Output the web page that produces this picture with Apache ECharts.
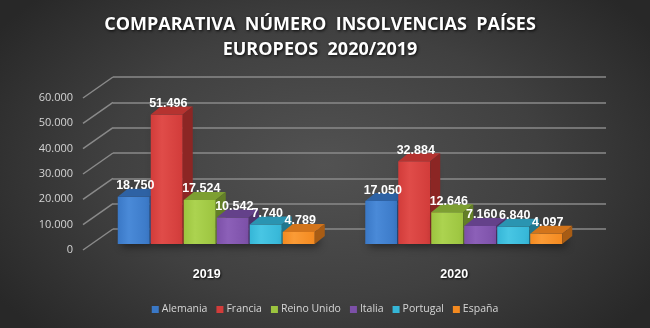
<!DOCTYPE html>
<html>
<head>
<meta charset="utf-8">
<script src="https://cdn.jsdelivr.net/npm/echarts@6/dist/echarts.min.js"></script>
<style>
  html, body { margin: 0; padding: 0; }
  #chart {
    width: 650px; height: 328px;
    background: radial-gradient(ellipse 60% 75% at 50% 50%, #525252 0%, #404040 55%, #282828 100%);
  }
</style>
</head>
<body>
<div id="chart"></div>
<script>
// Insolvency counts per country, 2019 vs 2020
const years = ['2019', '2020'];
const countries = ['Alemania', 'Francia', 'Reino Unido', 'Italia', 'Portugal', 'España'];
const alemania = [18750, 17050];
const francia = [51496, 32884];
const reinoUnido = [17524, 12646];
const italia = [10542, 7160];
const portugal = [7740, 6840];
const espana = [4789, 4097];
const valueTicks = [0, 10000, 20000, 30000, 40000, 50000, 60000];

const seriesValues = [alemania, francia, reinoUnido, italia, portugal, espana];

// front / top / side face colours for the extruded bars
const faceColors = [
  { front: '#3a78c6', light: '#4a8ad8', top: '#2e62a4', side: '#244f86' },
  { front: '#d23c3a', light: '#e04c49', top: '#b53330', side: '#8c2624' },
  { front: '#9cc43f', light: '#acd350', top: '#7d9f32', side: '#637f27' },
  { front: '#7c50a8', light: '#8c60b8', top: '#64418a', side: '#4f336e' },
  { front: '#35b6d7', light: '#48c6e4', top: '#2a94b1', side: '#20778f' },
  { front: '#f48a20', light: '#fb9b36', top: '#d2741b', side: '#a85c14' }
];

const DEPTH_X = 10, DEPTH_Y = -8;   // bar extrusion
const WALL_X = -30, WALL_Y = 21;    // side wall depth (back -> front)
const GROUP_FILL = 0.8;             // share of a category band used by bars

function fmt(v) {
  return String(v).replace(/\B(?=(\d{3})+(?!\d))/g, '.');
}

// horizontal placement of bar s inside its category band
function barFrame(s, api) {
  const cat = api.value(0);
  const v = api.value(1);
  const base = api.coord([cat, 0]);
  const top = api.coord([cat, v]);
  const band = api.size([1, 0])[0];
  const w = band * GROUP_FILL / countries.length;
  const x0 = base[0] - band * GROUP_FILL / 2 + s * w;
  return { v: v, x0: x0, w: w, ty: top[1], by: base[1] };
}

function barRenderer(s) {
  return function (params, api) {
    const f = barFrame(s, api);
    const c = faceColors[s];
    const r = f.x0 + f.w - 1;
    return {
      type: 'group',
      children: [
        {
          type: 'rect',
          shape: { x: f.x0, y: f.ty, width: f.w - 1, height: f.by - f.ty },
          style: {
            fill: new echarts.graphic.LinearGradient(0, 0, 1, 0, [
              { offset: 0, color: c.front },
              { offset: 0.35, color: c.light },
              { offset: 1, color: c.front }
            ]),
            shadowBlur: 8, shadowOffsetX: 4, shadowOffsetY: 3,
            shadowColor: 'rgba(0,0,0,0.45)'
          }
        },
        {
          type: 'polygon',
          shape: { points: [[f.x0, f.ty], [f.x0 + DEPTH_X, f.ty + DEPTH_Y], [r + DEPTH_X, f.ty + DEPTH_Y], [r, f.ty]] },
          style: { fill: c.top }
        },
        {
          type: 'polygon',
          shape: { points: [[r, f.ty], [r + DEPTH_X, f.ty + DEPTH_Y], [r + DEPTH_X, f.by + DEPTH_Y], [r, f.by]] },
          style: { fill: c.side }
        }
      ]
    };
  };
}

function labelRenderer(s) {
  return function (params, api) {
    const f = barFrame(s, api);
    return {
      type: 'text',
      style: {
        text: fmt(f.v),
        x: f.x0 + f.w / 2 + 1,
        y: f.ty - 11,
        align: 'center',
        verticalAlign: 'middle',
        fill: '#ffffff',
        font: 'bold 12.5px "Liberation Sans", sans-serif',
        shadowColor: 'rgba(0,0,0,0.85)',
        shadowBlur: 2,
        shadowOffsetX: 1,
        shadowOffsetY: 1
      }
    };
  };
}

const chart = echarts.init(document.getElementById('chart'), null, { renderer: 'canvas' });

function rows(s) {
  return years.map(function (y, i) { return [i, seriesValues[s][i]]; });
}

const barSeries = countries.map(function (name, s) {
  return {
    name: name,
    type: 'custom',
    xAxisIndex: 1,
    yAxisIndex: 1,
    z: 10 + s,
    itemStyle: { color: faceColors[s].front },
    renderItem: barRenderer(s),
    data: rows(s)
  };
});

// value labels sit above every bar so neighbours never cover them
const labelSeries = countries.map(function (name, s) {
  return {
    name: name,
    type: 'custom',
    xAxisIndex: 1,
    yAxisIndex: 1,
    z: 30,
    silent: true,
    itemStyle: { color: faceColors[s].front },
    renderItem: labelRenderer(s),
    data: rows(s)
  };
});

const option = {
  backgroundColor: 'transparent',
  animation: false,
  title: {
    text: 'COMPARATIVA  NÚMERO  INSOLVENCIAS  PAÍSES\nEUROPEOS  2020/2019',
    left: 315,
    textAlign: 'center',
    top: 7,
    textStyle: {
      color: '#ffffff',
      fontFamily: '"Open Sans", sans-serif',
      fontWeight: 'bold',
      fontSize: 18,
      lineHeight: 25,
      textShadowColor: 'rgba(0,0,0,0.9)',
      textShadowBlur: 3,
      textShadowOffsetX: 1,
      textShadowOffsetY: 1
    }
  },
  legend: {
    bottom: 8,
    left: 'center',
    icon: 'rect',
    itemWidth: 7,
    itemHeight: 7,
    itemGap: 9,
    textStyle: { color: '#d6d6d6', fontSize: 10.5, fontFamily: '"Open Sans", sans-serif', padding: [0, 0, 0, -2] },
    data: countries
  },
  grid: [
    // front plane: value labels and category labels
    { left: 83, top: 98, width: 495, height: 152 },
    // front face of the bars
    { left: 93, top: 93, width: 495, height: 151 },
    // back wall with gridlines
    { left: 113, top: 77, width: 493, height: 152 }
  ],
  xAxis: [
    {
      gridIndex: 0, type: 'category', data: years,
      axisLine: { show: false }, axisTick: { show: false },
      axisLabel: { color: '#ffffff', fontWeight: 'bold', fontSize: 12.5, margin: 18,
        fontFamily: '"Liberation Sans", sans-serif',
        textShadowColor: 'rgba(0,0,0,0.8)', textShadowBlur: 2, textShadowOffsetX: 1, textShadowOffsetY: 1 }
    },
    { gridIndex: 1, type: 'category', data: years, show: false },
    { gridIndex: 2, type: 'category', data: years, show: false }
  ],
  yAxis: [
    {
      gridIndex: 0, type: 'value', min: 0, max: 60000, interval: 10000,
      axisLine: { show: false }, axisTick: { show: false }, splitLine: { show: false },
      axisLabel: { color: '#d4d4d4', fontSize: 11, margin: 10,
        fontFamily: '"Open Sans", sans-serif', formatter: function (v) { return fmt(v); } }
    },
    { gridIndex: 1, type: 'value', min: 0, max: 60000, show: false, splitLine: { show: false } },
    {
      gridIndex: 2, type: 'value', min: 0, max: 60000, interval: 10000,
      axisLine: { show: false }, axisTick: { show: false }, axisLabel: { show: false },
      splitLine: { show: true, lineStyle: { color: '#8a8a8a', width: 1.5 } }
    }
  ],
  series: [
    {
      // side-wall lines joining the front labels to the back wall
      type: 'custom',
      xAxisIndex: 2,
      yAxisIndex: 2,
      z: 1,
      silent: true,
      legendHoverLink: false,
      renderItem: function (params, api) {
        const y = api.coord([0, api.value(0)])[1];
        const x = params.coordSys.x;
        return {
          type: 'line',
          shape: { x1: x, y1: y, x2: x + WALL_X, y2: y + WALL_Y },
          style: { stroke: '#8a8a8a', lineWidth: 1.5 }
        };
      },
      data: valueTicks.map(function (v) { return [v]; })
    }
  ].concat(barSeries, labelSeries)
};

chart.setOption(option);
</script>
</body>
</html>
